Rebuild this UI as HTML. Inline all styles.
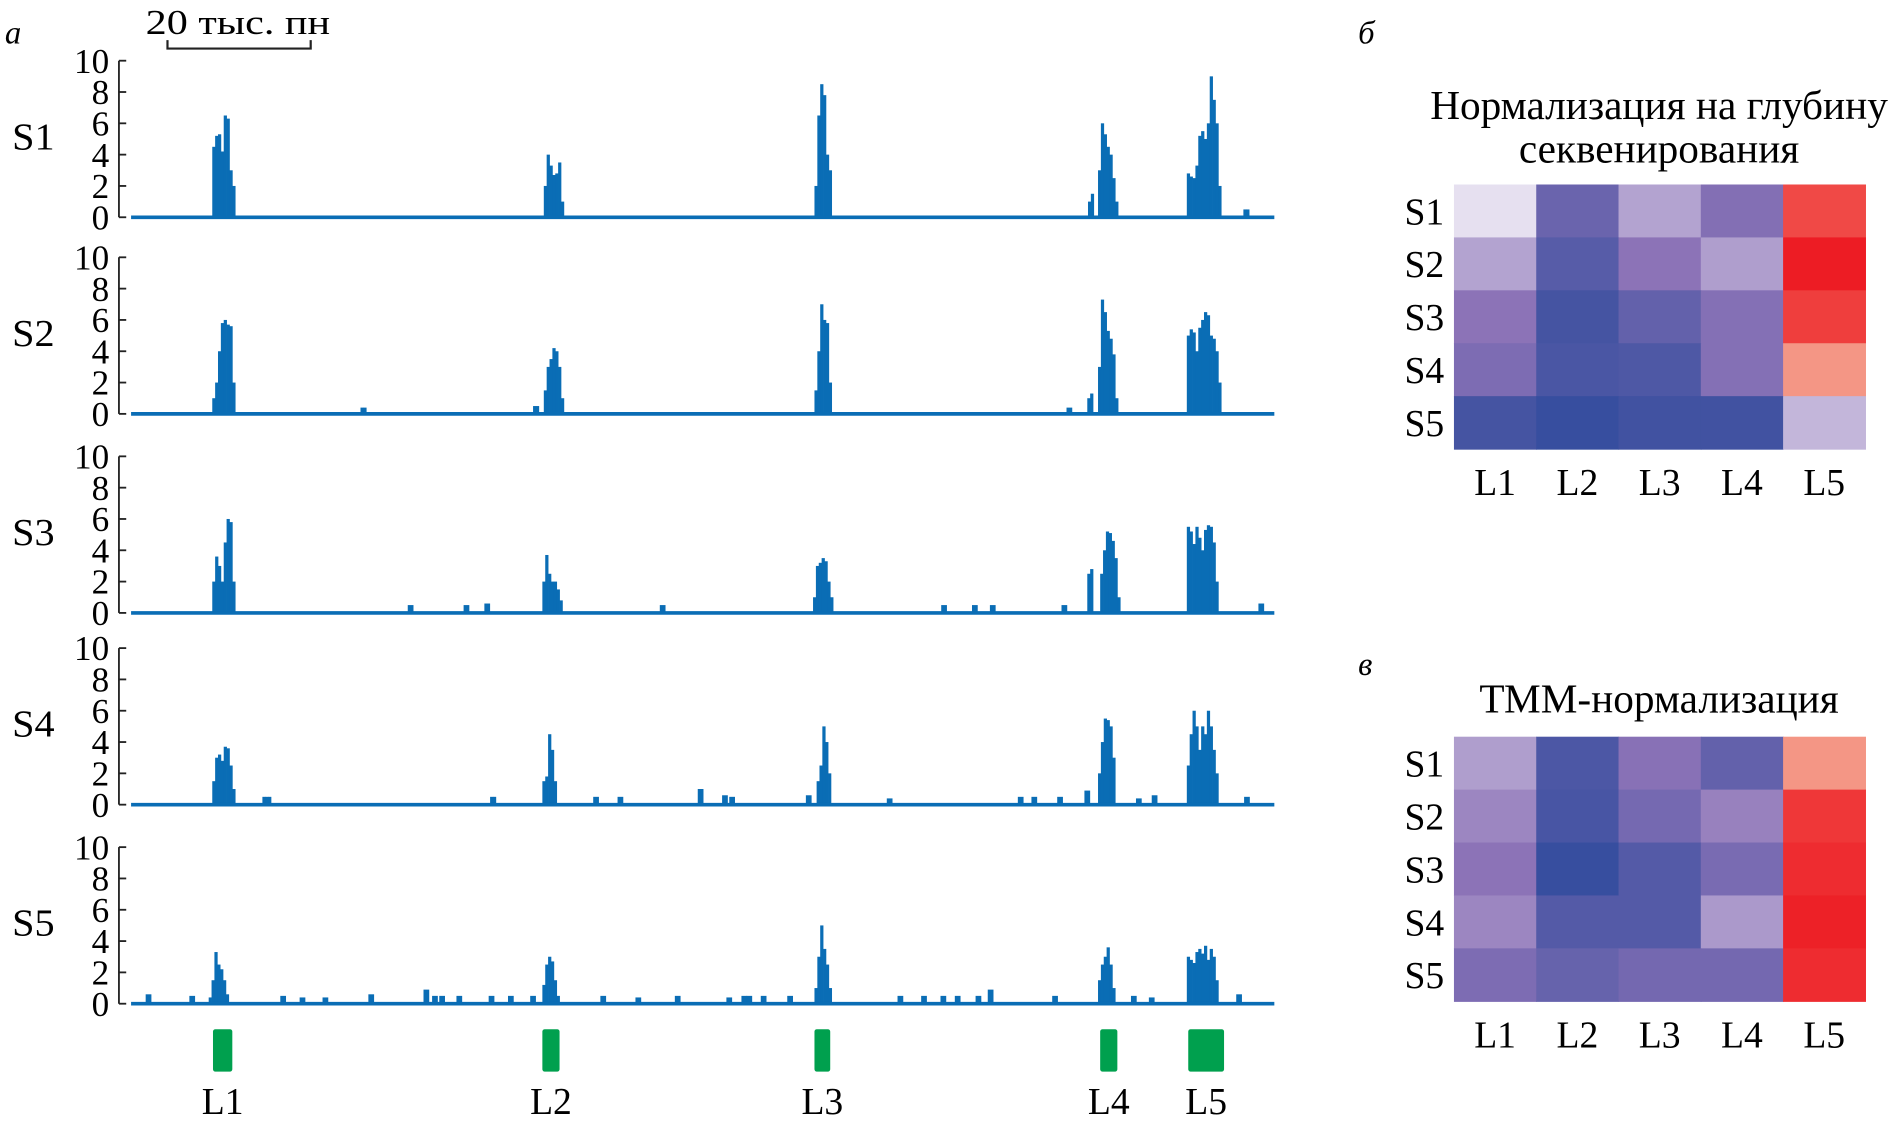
<!DOCTYPE html>
<html><head><meta charset="utf-8"><style>
html,body{margin:0;padding:0;background:#fff}
svg{display:block;font-family:"Liberation Serif","DejaVu Serif",serif}
</style></head><body>
<svg id="fig" width="1903" height="1128" viewBox="0 0 1568 929.4">
<g id="tracks"></g>
<g id="hm1"></g>
<g id="hm2"></g>
</svg>
<script>
const NS="http://www.w3.org/2000/svg";
// ---- Track data ----
const sampleNames=["S1","S2","S3","S4","S5"];
const yTicks=[0,2,4,6,8,10];
const binKb=0.4;
// peaks: [startKb, [bin heights...]]
const peaksS1=[[11.0,[4.5,5.2,5.3,4.2,6.5,6.3,3,2]],[57.3,[2,4,3.3,2.7,2.8,3.5,1]],[95.1,[2,6.5,8.5,7.8,4,3]],[133.3,[1,1.5]],[134.7,[3,6,5.3,4.5,4,2.5,1]],[147.1,[2.8,2.6,2.5,3.3,5.2,5.5,5,6,9,7.5,6,2]],[155.0,[0.5,0.5]]];
const peaksS2=[[11.0,[1,2,4,5.8,6,5.7,5.6,2]],[31.7,[0.4,0.4]],[55.8,[0.5,0.5]],[57.3,[1.5,3,3.5,4.2,4,3,1]],[95.1,[1.5,4,7,6,5.8,2]],[130.5,[0.4]],[133.2,[1,1.3]],[134.7,[3,7.3,6.5,5.3,4.8,3.8,1]],[147.1,[5,5.4,5.2,4,5.5,6,6.5,6.3,5,4.8,4,2]]];
const peaksS3=[[11.0,[2,3.6,3,2,4.5,6,5.8,2]],[38.5,[0.5]],[46.3,[0.5]],[49.2,[0.6]],[57.1,[2,3.7,2.5,2,2,1.5,0.8]],[73.7,[0.5]],[94.9,[1,3,3.2,3.5,3.3,2,1]],[113,[0.5]],[117.3,[0.5]],[119.8,[0.5]],[129.8,[0.5]],[133.2,[2.5,2.8]],[135.0,[2.5,4,5.2,5.1,4.6,3.5,1]],[147.1,[5.5,5.2,4.4,5.5,4.8,4,5.3,5.6,5.5,4.5,2]],[157.3,[0.6]]];
const peaksS4=[[11.0,[1.5,3,3.2,2.8,3.7,3.6,2.5,1]],[18,[0.5,0.5,0.5]],[49.8,[0.5,0.5]],[57.1,[1.5,1.8,4.5,3.5,1.5]],[64.4,[0.5]],[67.8,[0.5]],[79,[1]],[82.4,[0.6]],[83.4,[0.5]],[94.1,[0.6]],[95.4,[1.5,2.5,5,4,2]],[105.4,[0.4]],[123.7,[0.5]],[125.6,[0.5]],[129.2,[0.5]],[133,[0.9]],[134.7,[2,4,5.5,5.4,5,3]],[140.2,[0.4]],[142.4,[0.6]],[147.1,[2.5,4.5,6,5,3.5,5,4.5,6,5,3.5,2]],[155.3,[0.5]]];
const peaksS5=[[1.9,[0.6]],[8,[0.5]],[10.5,[0.4,1.5,3.3,2.5,2.2,1.5,0.6]],[20.7,[0.5]],[23.4,[0.4]],[26.6,[0.4]],[33,[0.6]],[40.7,[0.9]],[41.9,[0.5]],[42.9,[0.5]],[45.3,[0.5]],[49.8,[0.5]],[52.5,[0.5]],[55.6,[0.5]],[57.1,[1.2,2.5,3,2.7,1.5,0.5]],[65.4,[0.5]],[70.3,[0.4]],[75.8,[0.5]],[83,[0.4]],[85.1,[0.5]],[85.8,[0.5]],[87.8,[0.5]],[91.5,[0.5]],[95.1,[1,3,5,3.5,2.5,1]],[106.9,[0.5]],[110.2,[0.5]],[112.9,[0.5]],[114.9,[0.5]],[117.8,[0.5]],[119.5,[0.9]],[128.5,[0.5]],[134.7,[1.5,2.5,3,3.6,2.5,1]],[139.5,[0.5]],[142,[0.4]],[147.1,[3,2.8,2.6,3.3,3.5,3.2,3.7,2.8,3.5,3,1.5]],[154.2,[0.6]]];
const allPeaks=[peaksS1,peaksS2,peaksS3,peaksS4,peaksS5];
const lociNames=["L1","L2","L3","L4","L5"];
const lociStart=[11.1,57.1,95.1,135.0,147.3];
const lociEnd=[13.8,59.5,97.3,137.4,152.3];
// ---- Heatmap data (diverging, -1 blue .. 0 white .. 1 red) ----
const hmRows=["S1","S2","S3","S4","S5"];
const hmCols=["L1","L2","L3","L4","L5"];
const depthVals=[[-0.04,-0.68,-0.3,-0.55,0.8],[-0.3,-0.78,-0.5,-0.32,1.0],[-0.5,-0.88,-0.72,-0.54,0.85],[-0.58,-0.85,-0.83,-0.54,0.45],[-0.88,-0.95,-0.9,-0.9,-0.22]];
const tmmVals=[[-0.32,-0.84,-0.52,-0.72,0.45],[-0.42,-0.86,-0.62,-0.44,0.88],[-0.5,-0.95,-0.8,-0.6,0.93],[-0.42,-0.8,-0.8,-0.34,0.98],[-0.58,-0.7,-0.63,-0.63,0.93]];

function el(tag,attrs,parent,text){const e=document.createElementNS(NS,tag);for(const k in attrs)e.setAttribute(k,attrs[k]);if(text!==undefined)e.textContent=text;parent.appendChild(e);return e;}
const X0=110,PXKB=5.9;
function xKb(k){return X0+k*PXKB;}
const baselines=[179,341,505,663,827];
const unitPx=12.9;
function yVal(base,v){return base-v*unitPx;}

const fig=document.getElementById('fig');
const tr=document.getElementById('tracks');
let t=el('text',{x:4,y:36,'font-size':27,'font-style':'italic'},fig,'а');


const sb=el('g',{},fig);


el('path',{d:'M138 33 V40 H256 V33',fill:'none',stroke:'#222','stroke-width':1.8},sb);
t=el('text',{x:120,y:28,'font-size':29,textLength:152,lengthAdjust:'spacingAndGlyphs'},sb,'20 тыс. пн');



sampleNames.forEach((s,i)=>{
  const b=baselines[i];
  const g=el('g',{},tr);
  
  
  let lab=el('text',{x:10,y:b-56,'font-size':31,textLength:35,lengthAdjust:'spacingAndGlyphs'},g,s);
  
  
  const ax=el('line',{x1:98,x2:98,y1:yVal(b,10),y2:b,stroke:'#222','stroke-width':1.5},g);
  
  
  yTicks.forEach(v=>{
    el('line',{x1:98,x2:104,y1:yVal(b,v),y2:yVal(b,v),stroke:'#222','stroke-width':1.5},g);
    const tl=el('text',{x:90,y:yVal(b,v)+10,'font-size':29,'text-anchor':'end'},g,String(v));
    
    
  });
  allPeaks[i].forEach(p=>{
    p[1].forEach((v,j)=>{
      const x=xKb(p[0]+j*binKb);
      const w=p[1].length===1?binKb*PXKB*2:binKb*PXKB+0.3;
      const r=el('rect',{x:p[1].length===1?x-binKb*PXKB/2:x,y:yVal(b,v),width:w,height:v*unitPx,fill:'#0a6db5'},g);
      
      
    });
  });
  const bl=el('line',{x1:X0-2,x2:1050,y1:b,y2:b,stroke:'#0a6db5','stroke-width':3},g);
  
  
});
lociNames.forEach((n,i)=>{
  const x1=xKb(lociStart[i]),x2=xKb(lociEnd[i]);
  const r=el('rect',{x:x1,y:848,width:x2-x1,height:35,rx:2,fill:'#00a04e'},tr);
  
  
  const tl=el('text',{x:(x1+x2)/2,y:918,'font-size':31,'text-anchor':'middle'},tr,n);
  
  
});

const stops=[[-1,[46,74,156]],[-0.5,[140,115,183]],[0,[238,234,245]],[0.5,[245,141,120]],[1,[237,28,36]]];
function color(v){for(let i=0;i<stops.length-1;i++){const a=stops[i],b=stops[i+1];if(v<=b[0]){const f=(v-a[0])/(b[0]-a[0]);const c=a[1].map((x,k)=>Math.round(x+(b[1][k]-x)*f));return 'rgb('+c.join(',')+')';}}return 'rgb(237,28,36)';}

function heatmap(gid,vals,top,titleLines,titleY,panel,panelY){
  const g=document.getElementById(gid);
  let pl=el('text',{x:1119,y:panelY,'font-size':27,'font-style':'italic'},g,panel);
  
  
  titleLines.forEach((l,k)=>{
    const tt=el('text',{x:1367,y:titleY+k*36,'font-size':34,'text-anchor':'middle'},g,l);
    
    
  });
  const L=1198,cw=67.8,rh=43.6;
  vals.forEach((row,r)=>{
    row.forEach((v,c)=>{
      const cell=el('rect',{x:L+c*cw,y:top+r*rh,width:cw+0.5,height:rh+0.5,fill:color(v)},g);
      
      
    });
    const rl=el('text',{x:1190,y:top+r*rh+rh/2+11,'font-size':31,'text-anchor':'end'},g,hmRows[r]);
    
    
  });
  hmCols.forEach((c,k)=>{
    const cl=el('text',{x:L+k*cw+cw/2,y:top+5*rh+38,'font-size':31,'text-anchor':'middle'},g,c);
    
    
  });
}
heatmap('hm1',depthVals,152,['Нормализация на глубину','секвенирования'],98,'б',36);
heatmap('hm2',tmmVals,607,['ТММ-нормализация'],587,'в',556);
</script>
</body></html>
